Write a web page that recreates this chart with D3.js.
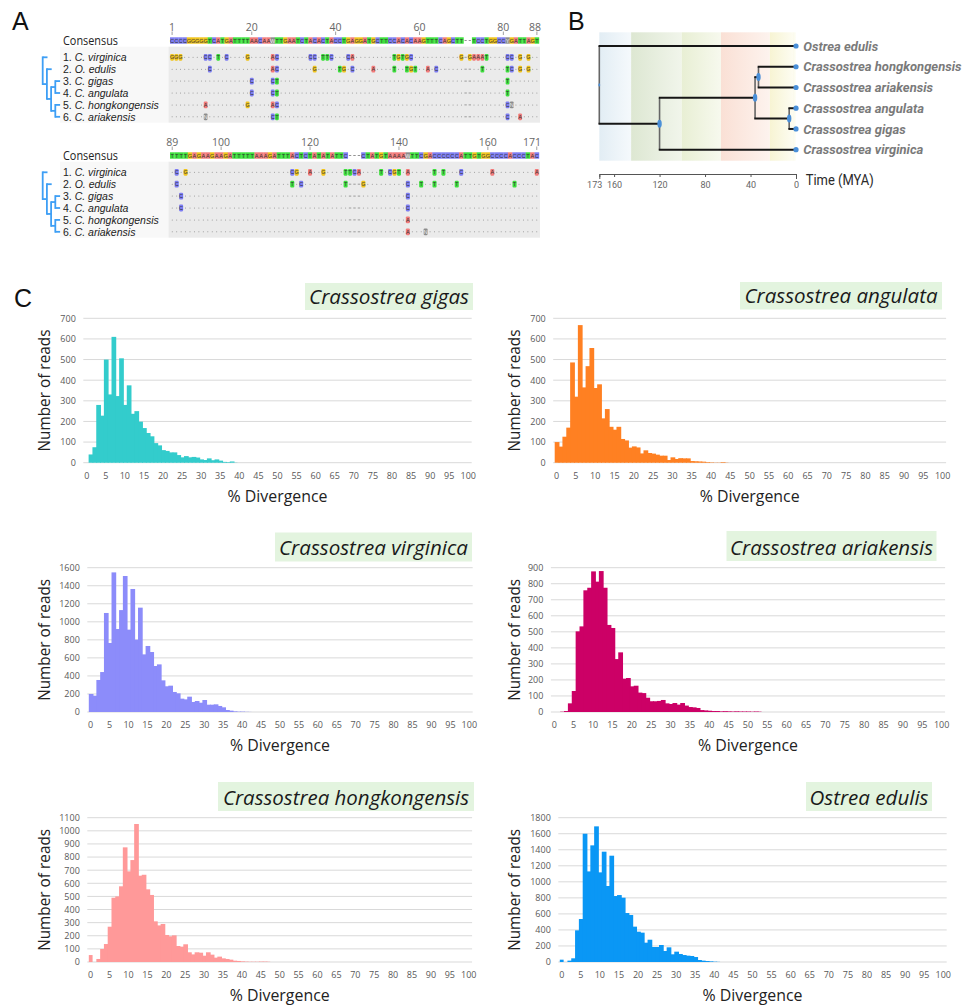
<!DOCTYPE html>
<html>
<head>
<meta charset="utf-8">
<title>Oyster satellite DNA divergence</title>
<script src="https://cdnjs.cloudflare.com/ajax/libs/d3/7.8.5/d3.min.js"></script>
<style>
  body { margin: 0; background: #fff; }
  svg { display: block; }
</style>
</head>
<body>
<svg id="figure" width="967" height="1006"></svg>
<script>
// ---------- panel A : alignment ----------
var alignTaxa = ["C. virginica", "O. edulis", "C. gigas", "C. angulata", "C. hongkongensis", "C. ariakensis"];
var alignTree = ["C. virginica", ["O. edulis", [["C. gigas", "C. angulata"], ["C. hongkongensis", "C. ariakensis"]]]];
var consensus1 = "CCCCGGGGGTCATGATTTTAACAAWTTGAATCTACACTACCTGAGGATGCTTCCACACAAGTTTCAGCTT--TCCTGGCCYGATTAGT";
var consensus2 = "TTTTGAGAAGAAGATTTTTAAAGATTTACTCTATATATTC---CTATGTAAAAWTTCGACCCCCCATTGTGGCCCCACCCTAC";
var ruler1 = [1, 20, 40, 60, 80, 88];
var ruler2 = [89, 100, 120, 140, 160, 171];
// [column, residues] differing from the consensus, one list per taxon
var variants1 = [
  [[1,"GGG"],[9,"CC"],[12,"T"],[14,"C"],[19,"G"],[25,"AC"],[34,"CC"],[37,"TTC"],[43,"CA"],[54,"TGTGC"],[70,"G"],[72,"GAAAT"],[81,"CC"],[84,"G"],[86,"G"]],
  [[10,"C"],[25,"AC"],[35,"G"],[41,"TG"],[44,"C"],[49,"A"],[54,"T"],[57,"TGT"],[62,"A"],[64,"C"],[75,"T"],[81,"TC"],[84,"G"],[86,"G"]],
  [[20,"C"],[25,"CT"],[81,"T"]],
  [[20,"C"],[25,"CT"],[81,"T"]],
  [[9,"A"],[19,"G"],[25,"AC"],[81,"CN"]],
  [[9,"N"],[25,"CT"],[81,"C"],[84,"A"]]
];
var variants2 = [
  [[2,"C"],[4,"G"],[28,"CG"],[32,"A"],[35,"G"],[40,"TTCA"],[48,"T"],[50,"CGT"],[54,"A"],[60,"T"],[62,"T"],[66,"C"],[73,"A"],[83,"A"]],
  [[2,"C"],[28,"T"],[30,"C"],[40,"T"],[44,"G"],[54,"C"],[57,"T"],[60,"T"],[65,"T"],[78,"T"]],
  [[3,"C"],[54,"C"]],
  [[3,"C"],[54,"C"]],
  [[54,"A"]],
  [[54,"A"],[58,"N"]]
];

// ---------- panel B : time tree ----------
var timeTaxa = ["Ostrea edulis", "Crassostrea hongkongensis", "Crassostrea ariakensis", "Crassostrea angulata", "Crassostrea gigas", "Crassostrea virginica"];
var timeTree = {age: 173, children: [
  {name: "Ostrea edulis"},
  {age: 120, children: [
    {age: 36, children: [
      {age: 33, children: [{name: "Crassostrea hongkongensis"}, {name: "Crassostrea ariakensis"}]},
      {age: 6, children: [{name: "Crassostrea angulata"}, {name: "Crassostrea gigas"}]}
    ]},
    {name: "Crassostrea virginica"}
  ]}
]};
var timeTicks = [173, 160, 120, 80, 40, 0];
var periodBounds = [173, 145, 100.5, 66, 23, 2.6, 0];

// ---------- panel C : divergence histograms ----------
var divergenceBins = d3.range(0, 101);
var divergenceTicks = [0,5,10,15,20,25,30,35,40,45,50,55,60,65,70,75,80,85,90,95,100];
var gigasReads = [0,40,75,280,228,500,331,610,323,506,280,375,237,250,199,168,144,128,95,84,61,57,50,50,37,26,32,26,28,25,16,13,21,12,16,10,4,3,6,1];
var angulataReads = [100,78,126,170,486,320,667,365,468,556,362,380,215,260,174,160,174,115,108,73,79,74,45,60,47,44,39,34,34,13,26,18,22,21,21,8,7,6,5,3,2,1,1,3,1];
var virginicaReads = [200,181,355,443,1098,765,1548,920,1130,1508,913,1364,802,1157,639,732,665,510,528,351,285,292,222,207,148,140,170,111,122,103,133,81,81,85,67,52,22,15,7,4,4,2,1];
var ariakensisReads = [0,0,2,6,54,131,503,534,759,775,877,813,879,775,543,524,330,372,208,212,160,164,121,118,89,67,67,69,75,54,50,56,46,56,40,31,29,25,12,10,8,6,6,4,5,4,3,4,3,3,3,2,3,2];
var hongkongensisReads = [53,0,23,99,137,269,490,500,577,874,691,777,1052,658,665,554,511,310,279,290,206,196,203,122,117,135,74,58,74,71,48,74,56,33,41,28,23,18,10,8,5,3,2,2,2,3,3,2];
var edulisReads = [29,0,17,46,395,536,1600,1130,1455,1692,1118,1376,948,1326,823,835,802,611,586,441,378,366,241,278,187,187,212,137,183,96,129,100,87,79,75,62,25,17,12,8,4,2];
var ticks700 = [0,100,200,300,400,500,600,700];
var ticks900 = [0,100,200,300,400,500,600,700,800,900];
var ticks1100 = [0,100,200,300,400,500,600,700,800,900,1000,1100];
var ticks1600 = [0,200,400,600,800,1000,1200,1400,1600];
var ticks1800 = [0,200,400,600,800,1000,1200,1400,1600,1800];

var histPanels = [
  {name: "Crassostrea gigas", values: gigasReads, ticks: ticks700, color: "#33cccc"},
  {name: "Crassostrea angulata", values: angulataReads, ticks: ticks700, color: "#ff8022"},
  {name: "Crassostrea virginica", values: virginicaReads, ticks: ticks1600, color: "#8c8cfa"},
  {name: "Crassostrea ariakensis", values: ariakensisReads, ticks: ticks900, color: "#cc0066"},
  {name: "Crassostrea hongkongensis", values: hongkongensisReads, ticks: ticks1100, color: "#ff9999"},
  {name: "Ostrea edulis", values: edulisReads, ticks: ticks1800, color: "#0a97f5"}
];
// plot boxes
var histLayout = [
  {left: 84.8, right: 470.2, top: 318.3, bottom: 462.7, yLabelX: 45, box: [305, 283, 168, 27], textW: 160},
  {left: 554.7, right: 944.6, top: 318.3, bottom: 462.7, yLabelX: 515, box: [740, 282, 202, 27.5], textW: 193},
  {left: 88.8, right: 471.2, top: 567.7, bottom: 712, yLabelX: 45, box: [275, 532.5, 197, 29], textW: 189},
  {left: 552.4, right: 943.6, top: 567.7, bottom: 712, yLabelX: 515, box: [726.5, 531, 210, 30], textW: 203},
  {left: 88.8, right: 470.6, top: 817.7, bottom: 962, yLabelX: 45, box: [218, 782, 256, 29], textW: 246},
  {left: 559.8, right: 945.2, top: 817.7, bottom: 962, yLabelX: 515, box: [806, 782, 126, 29], textW: 119}
];

var baseColor = {A: "#f27b7b", C: "#7d7df2", G: "#f0c41c", T: "#3ddf3d"};
function cellColor(ch) { return baseColor[ch] || "#8c8c8c"; }

var svg = d3.select("#figure");
var sans = '"Open Sans", sans-serif';
var arial = '"Liberation Sans", Arial, sans-serif';

// panel letters
[["A", 12, 30], ["B", 568, 30], ["C", 14, 307]].forEach(function(p) {
  svg.append("text").attr("x", p[1]).attr("y", p[2]).text(p[0])
    .attr("font-family", arial).attr("font-size", 25).attr("fill", "#111");
});

// ================= PANEL A =================
var aTree = d3.hierarchy(alignTree, function(d) { return Array.isArray(d) ? d : null; });
var leafRow = d3.scalePoint().domain(alignTaxa).range([57.3, 116.8]);
aTree.eachAfter(function(d) {
  if (d.children) {
    d.y = (d.children[0].y + d.children[d.children.length - 1].y) / 2;
    d.x = 42.7 + d.depth * 4.2;
  } else {
    d.y = leafRow(d.data);
    d.x = 42.7 + (d.depth - 1) * 4.2 + 4.8;
  }
});

function drawBlock(yOff, cons, ruler, variants) {
  var g = svg.append("g").attr("transform", "translate(0," + yOff + ")");
  var cols = d3.range(cons.length);
  var x = d3.scaleBand().domain(cols).range([170, 539]);
  var w = x.bandwidth();
  var firstPos = ruler[0];

  // backgrounds
  g.append("rect").attr("x", 60).attr("y", 46.7).attr("width", 108.5).attr("height", 76)
    .attr("fill", "#f8f8f8");
  g.append("rect").attr("x", 168.5).attr("y", 46.7).attr("width", 371.5).attr("height", 76)
    .attr("fill", "#ebebeb");

  // ruler
  ruler.forEach(function(pos, i) {
    var cx = x(pos - firstPos) + w / 2;
    g.append("line").attr("x1", cx).attr("x2", cx).attr("y1", 31.5).attr("y2", 35)
      .attr("stroke", "#888").attr("stroke-width", 0.8);
    var last = i == ruler.length - 1;
    g.append("text").attr("x", last ? 541 : cx).attr("y", 30.5)
      .attr("text-anchor", last ? "end" : "middle")
      .attr("font-family", sans).attr("font-size", 10.5).attr("fill", "#666").text(pos);
  });

  // consensus
  g.append("text").attr("x", 63).attr("y", 44.5).text("Consensus")
    .attr("font-family", sans).attr("font-size", 12.5).attr("textLength", 55)
    .attr("lengthAdjust", "spacingAndGlyphs").attr("fill", "#222");
  var consCells = cols.map(function(i) { return {i: i, ch: cons[i]}; });
  g.selectAll("rect.cons").data(consCells.filter(function(d) { return d.ch != "-"; }))
    .join("rect").attr("class", "cons")
    .attr("x", function(d) { return x(d.i); }).attr("y", 37.3)
    .attr("width", w + 0.2).attr("height", 6.4)
    .attr("fill", function(d) { return cellColor(d.ch); });
  g.selectAll("text.cons").data(consCells.filter(function(d) { return d.ch != "-"; }))
    .join("text").attr("class", "cons")
    .attr("x", function(d) { return x(d.i) + w / 2; }).attr("y", 42.6)
    .attr("text-anchor", "middle").attr("font-family", arial).attr("font-size", 5.6)
    .attr("fill", function(d) { return /[ACGT]/.test(d.ch) ? "#333" : "#eee"; })
    .text(function(d) { return d.ch; });
  g.selectAll("line.consgap").data(consCells.filter(function(d) { return d.ch == "-"; }))
    .join("line").attr("class", "consgap")
    .attr("x1", function(d) { return x(d.i) + 1; }).attr("x2", function(d) { return x(d.i) + w - 1; })
    .attr("y1", 40.5).attr("y2", 40.5).attr("stroke", "#777").attr("stroke-width", 0.8);

  // taxa rows
  alignTaxa.forEach(function(taxon, r) {
    var ry = leafRow(taxon);
    var name = g.append("text").attr("x", 63).attr("y", ry + 3.7)
      .attr("font-family", arial).attr("font-size", 10.5).attr("fill", "#222");
    name.append("tspan").text((r + 1) + ". ");
    name.append("tspan").attr("font-style", "italic").text(taxon);

    var row = cols.map(function(i) { return {i: i, ch: null}; });
    variants[r].forEach(function(v) {
      for (var k = 0; k < v[1].length; k++) row[v[0] - 1 + k].ch = v[1][k];
    });
    var rg = g.append("g");
    row.forEach(function(c) {
      var cx = x(c.i) + w / 2;
      if (c.ch) {
        rg.append("rect").attr("x", x(c.i) + 0.2).attr("y", ry - 3.4).attr("width", w - 0.4)
          .attr("height", 6.8).attr("rx", 1.1).attr("fill", cellColor(c.ch));
        rg.append("text").attr("x", cx).attr("y", ry + 2).attr("text-anchor", "middle")
          .attr("font-family", arial).attr("font-size", 5.6)
          .attr("fill", /[ACGT]/.test(c.ch) ? "#333" : "#eee").text(c.ch);
      } else if (cons[c.i] == "-") {
        rg.append("line").attr("x1", cx - 1.2).attr("x2", cx + 1.2).attr("y1", ry).attr("y2", ry)
          .attr("stroke", "#888").attr("stroke-width", 0.8);
      } else {
        rg.append("circle").attr("cx", cx).attr("cy", ry).attr("r", 0.5).attr("fill", "#8a8a8a");
      }
    });
  });

  // cladogram
  var tg = g.append("g").attr("fill", "none").attr("stroke", "#3e9ff5").attr("stroke-width", 1.8);
  aTree.descendants().forEach(function(d) {
    if (d.parent) {
      tg.append("line").attr("x1", d.parent.x).attr("x2", d.x).attr("y1", d.y).attr("y2", d.y);
    }
    if (d.children) {
      tg.append("line").attr("x1", d.x).attr("x2", d.x)
        .attr("y1", d.children[0].y - 0.9).attr("y2", d.children[d.children.length - 1].y + 0.9);
    }
  });
}

drawBlock(0, consensus1, ruler1, variants1);
drawBlock(115, consensus2, ruler2, variants2);

// ================= PANEL B =================
var tx = d3.scaleLinear().domain([173, 0]).range([599.3, 796]);
var ty = d3.scalePoint().domain(timeTaxa).range([46, 149.7]);
var periodColors = [["#e2edf4", "#f5f9fc"], ["#dde7d2", "#f1f5eb"], ["#e8efd4", "#f7f9ee"],
                    ["#fae0d5", "#fdf3ee"], ["#f7f4d3", "#fdfcf1"], ["#fbfaea", "#fefef8"]];
var defs = svg.append("defs");
periodColors.forEach(function(c, i) {
  var lg = defs.append("linearGradient").attr("id", "period" + i)
    .attr("x1", 0).attr("x2", 1).attr("y1", 0).attr("y2", 0);
  lg.append("stop").attr("offset", 0).attr("stop-color", c[0]);
  lg.append("stop").attr("offset", 1).attr("stop-color", c[1]);
});
var bg = svg.append("g");
d3.pairs(periodBounds).forEach(function(p, i) {
  bg.append("rect").attr("x", tx(p[0])).attr("width", tx(p[1]) - tx(p[0]))
    .attr("y", 32.3).attr("height", 128.4).attr("fill", "url(#period" + i + ")");
});

var tRoot = d3.hierarchy(timeTree);
tRoot.eachAfter(function(d) {
  if (d.children) {
    d.y = (d.children[0].y + d.children[d.children.length - 1].y) / 2;
    d.x = tx(d.data.age);
  } else {
    d.y = ty(d.data.name);
    d.x = tx(0);
  }
});
var bt = svg.append("g");
tRoot.descendants().forEach(function(d) {
  if (d.children) {
    bt.append("line").attr("x1", d.x).attr("x2", d.x)
      .attr("y1", d.children[0].y).attr("y2", d.children[d.children.length - 1].y)
      .attr("stroke", "#666").attr("stroke-width", 1.6);
  }
});
tRoot.descendants().forEach(function(d) {
  if (d.parent) {
    bt.append("line").attr("x1", d.parent.x - 0.8).attr("x2", d.x).attr("y1", d.y).attr("y2", d.y)
      .attr("stroke", "#161616").attr("stroke-width", 2);
  }
});
tRoot.descendants().forEach(function(d) {
  if (d.children) {
    bt.append("ellipse").attr("cx", d.x).attr("cy", d.y)
      .attr("rx", d.parent ? 2.2 : 0.9).attr("ry", d.parent ? 4 : 1.6).attr("fill", "#4a8fd8");
  } else {
    bt.append("circle").attr("cx", d.x).attr("cy", d.y).attr("r", 2.6).attr("fill", "#4a8fd8");
    bt.append("text").attr("x", 803.3).attr("y", d.y + 4.6).text(d.data.name)
      .attr("font-family", "Roboto, sans-serif").attr("font-size", 13)
      .attr("font-weight", "bold").attr("font-style", "italic").attr("fill", "#7a7a7a");
  }
});

var timeAxis = svg.append("g").attr("transform", "translate(0,174)")
  .call(d3.axisBottom(tx).tickValues(timeTicks).tickSizeInner(3).tickSizeOuter(5).tickPadding(5));
timeAxis.select(".domain").attr("stroke", "#555");
timeAxis.selectAll(".tick line").attr("stroke", "#555");
timeAxis.selectAll("text").attr("font-family", "Roboto, sans-serif").attr("font-size", 9).attr("fill", "#666");
// the oldest label sits left of its tick so it clears "160"
timeAxis.selectAll(".tick").filter(function(d) { return d == 173; }).select("text")
  .attr("text-anchor", "end").attr("x", 2.5);
svg.append("text").attr("x", 805.7).attr("y", 185).text("Time (MYA)")
  .attr("font-family", "Roboto, sans-serif").attr("font-size", 15).attr("fill", "#2a2a2a")
  .attr("textLength", 68).attr("lengthAdjust", "spacingAndGlyphs");

// ================= PANEL C =================
function drawHistogram(p, L) {
  var g = svg.append("g");
  var x = d3.scaleBand().domain(divergenceBins).range([L.left, L.right]);
  var y = d3.scaleLinear().domain([0, d3.max(p.ticks)]).range([L.bottom, L.top]);

  g.selectAll("line.grid").data(p.ticks).join("line").attr("class", "grid")
    .attr("x1", L.left - 1.5).attr("x2", L.right + 1.5)
    .attr("y1", function(d) { return y(d); }).attr("y2", function(d) { return y(d); })
    .attr("stroke", "#d9d9d9").attr("stroke-width", 1);

  g.selectAll("rect.bar").data(p.values).join("rect").attr("class", "bar")
    .attr("x", function(d, i) { return x(i); })
    .attr("width", function(d, i) { return x.bandwidth() + (p.values[i + 1] ? 0.9 : 0); })
    .attr("y", function(d) { return y(d); })
    .attr("height", function(d) { return y(0) - y(d); })
    .attr("fill", p.color);

  var ya = g.append("g").attr("transform", "translate(" + L.left + ",0)")
    .call(d3.axisLeft(y).tickValues(p.ticks).tickFormat(d3.format("d")).tickSize(0).tickPadding(9));
  ya.select(".domain").remove();
  ya.selectAll("text").attr("font-family", sans).attr("font-size", 9).attr("fill", "#595959");

  var xa = g.append("g").attr("transform", "translate(0," + L.bottom + ")")
    .call(d3.axisBottom(x).tickValues(divergenceTicks).tickSize(0).tickPadding(9.5));
  xa.select(".domain").remove();
  xa.selectAll("text").attr("font-family", sans).attr("font-size", 9).attr("fill", "#595959");

  g.append("text").attr("x", (L.left + L.right) / 2).attr("y", L.bottom + 39)
    .attr("text-anchor", "middle").text("% Divergence")
    .attr("font-family", sans).attr("font-size", 15.5).attr("fill", "#222")
    .attr("textLength", 100).attr("lengthAdjust", "spacingAndGlyphs");
  g.append("text").attr("transform", "translate(" + L.yLabelX + "," + ((L.top + L.bottom) / 2) + ") rotate(-90)")
    .attr("text-anchor", "middle").attr("dy", "0.35em").text("Number of reads")
    .attr("font-family", sans).attr("font-size", 15.5).attr("fill", "#222")
    .attr("textLength", 122).attr("lengthAdjust", "spacingAndGlyphs");

  var b = L.box;
  g.append("rect").attr("x", b[0]).attr("y", b[1]).attr("width", b[2]).attr("height", b[3])
    .attr("fill", "#e3f4df");
  g.append("text").attr("x", b[0] + (b[2] - L.textW) / 2).attr("y", b[1] + b[3] - 6.5)
    .text(p.name).attr("font-family", sans).attr("font-style", "italic").attr("font-size", 20)
    .attr("fill", "#1a1a1a").attr("textLength", L.textW).attr("lengthAdjust", "spacingAndGlyphs");
}

histPanels.forEach(function(p, i) { drawHistogram(p, histLayout[i]); });
</script>
</body>
</html>
